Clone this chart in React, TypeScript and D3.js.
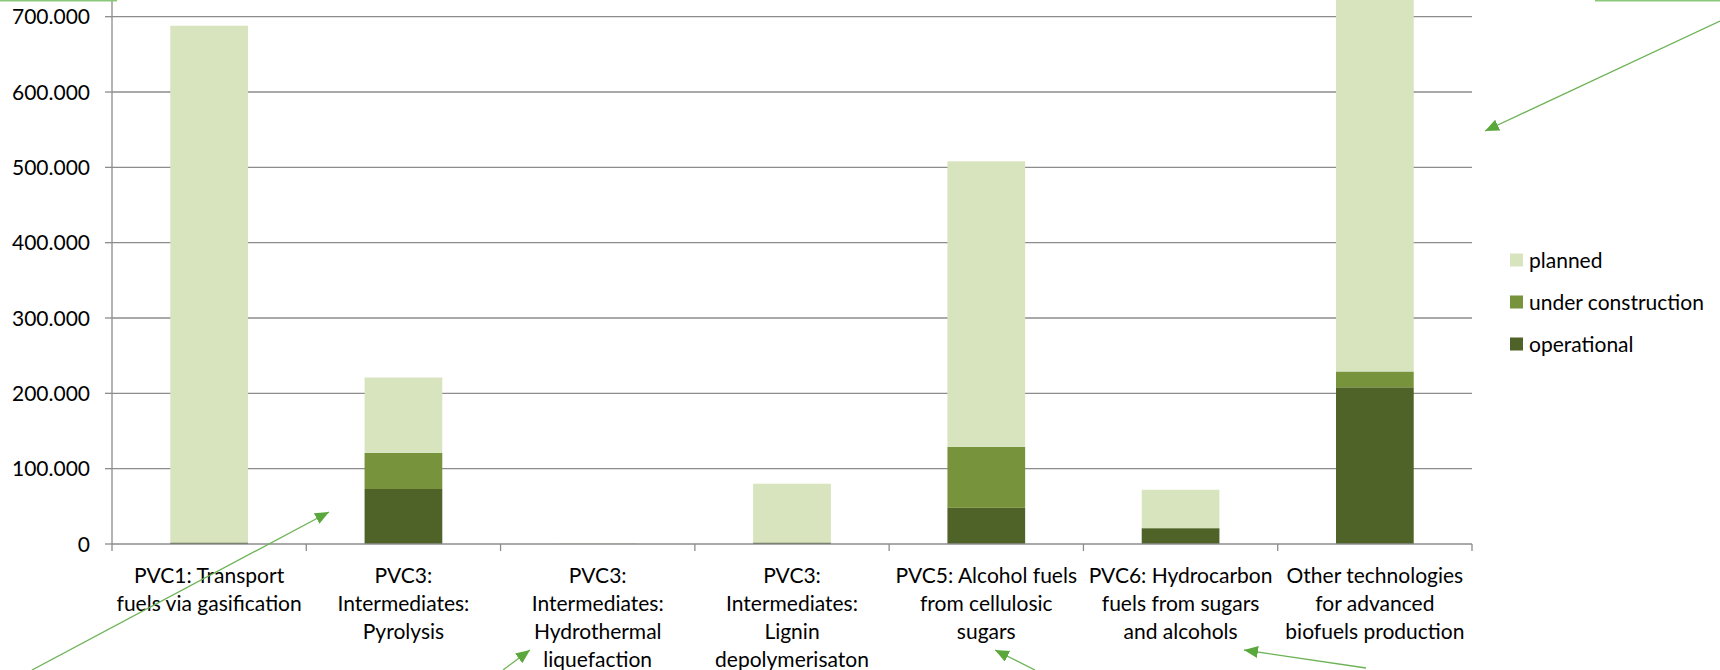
import { useMemo } from "react";
import * as d3 from "d3";

// categories (x axis), each split into label lines
const categories = ["pvc1", "pvc3pyr", "pvc3htl", "pvc3lig", "pvc5", "pvc6", "other"];
const categoryLines = [
  ["PVC1: Transport", "fuels via gasification"],
  ["PVC3:", "Intermediates:", "Pyrolysis"],
  ["PVC3:", "Intermediates:", "Hydrothermal", "liquefaction"],
  ["PVC3:", "Intermediates:", "Lignin", "depolymerisaton"],
  ["PVC5: Alcohol fuels", "from cellulosic", "sugars"],
  ["PVC6: Hydrocarbon", "fuels from sugars", "and alcohols"],
  ["Other technologies", "for advanced", "biofuels production"],
];

// capacity values (t/y)
const operational = [2000, 73000, 0, 2000, 48000, 21000, 208000];
const underConstruction = [0, 48000, 0, 0, 81000, 0, 21000];
const planned = [686000, 100000, 1000, 78000, 379000, 51000, 550000];

const seriesKeys = ["operational", "under construction", "planned"];
const seriesColors = ["#4F6228", "#77933C", "#D7E4BD"];
const legendOrder = ["planned", "under construction", "operational"];

const yTicks = [0, 100000, 200000, 300000, 400000, 500000, 600000, 700000];

const FONT = "Lato, 'Open Sans', sans-serif";

type Row = { cat: string } & Record<string, number>;

export default function App() {
  const W = 1720;
  const H = 670;
  const left = 112;
  const right = 1472;
  const zeroY = 544;
  const pxPer100k = 75.33;

  const rows: Row[] = useMemo(
    () =>
      categories.map((cat, i) => {
        const r = { cat } as Row;
        r["operational"] = operational[i];
        r["under construction"] = underConstruction[i];
        r["planned"] = planned[i];
        return r;
      }),
    []
  );

  const layers = useMemo(() => d3.stack<Row>().keys(seriesKeys)(rows), [rows]);

  const x = d3
    .scaleBand<string>()
    .domain(categories)
    .range([left, right])
    .paddingInner(0.6)
    .paddingOuter(0.3);

  const boundary = d3.scaleLinear().domain([0, categories.length]).range([left, right]);

  const y = d3
    .scaleLinear()
    .domain([0, 800000])
    .range([zeroY, zeroY - 8 * pxPer100k]);

  const fmt = (v: number) => (v === 0 ? "0" : d3.format(",")(v).replace(/,/g, "."));
  const colorOf = (k: string) => seriesColors[seriesKeys.indexOf(k)];

  const arrows = [
    { x1: 32, y1: 670, x2: 329, y2: 512 },
    { x1: 503, y1: 670, x2: 530, y2: 650 },
    { x1: 1035, y1: 670, x2: 995, y2: 650 },
    { x1: 1366, y1: 668, x2: 1244, y2: 650 },
    { x1: 1720, y1: 21, x2: 1485, y2: 131 },
  ];

  return (
    <svg
      width={W}
      height={H}
      style={{ position: "absolute", left: 0, top: 0, background: "#fff" }}
      fontFamily={FONT}
    >
      <defs>
        <marker
          id="head"
          markerUnits="userSpaceOnUse"
          markerWidth={16}
          markerHeight={14}
          refX={14}
          refY={6}
          orient="auto"
        >
          <path d="M0,0 L14,6 L0,12 Z" fill="#5AA83C" />
        </marker>
      </defs>

      {/* gridlines */}
      {yTicks.slice(1).map((t) => (
        <line key={t} x1={left} x2={right} y1={y(t)} y2={y(t)} stroke="#8c8c8c" strokeWidth={1.3} />
      ))}

      {/* stacked bars */}
      {layers.map((layer) => (
        <g key={layer.key} fill={colorOf(layer.key)}>
          {layer.map((d, i) => (
            <rect
              key={i}
              x={x(categories[i])}
              width={x.bandwidth()}
              y={y(d[1])}
              height={Math.max(0, y(d[0]) - y(d[1]))}
            />
          ))}
        </g>
      ))}

      {/* y axis */}
      <line x1={left} x2={left} y1={y(800000)} y2={zeroY} stroke="#8c8c8c" strokeWidth={1.3} />
      {yTicks.map((t) => (
        <g key={t}>
          <line x1={left - 7} x2={left} y1={y(t)} y2={y(t)} stroke="#8c8c8c" strokeWidth={1.3} />
          <text x={90} y={y(t)} dy="0.36em" textAnchor="end" fontSize={21} fill="#000">
            {fmt(t)}
          </text>
        </g>
      ))}

      {/* x axis */}
      <line x1={left} x2={right} y1={zeroY} y2={zeroY} stroke="#8c8c8c" strokeWidth={1.3} />
      {d3.range(categories.length + 1).map((i) => (
        <line
          key={i}
          x1={boundary(i)}
          x2={boundary(i)}
          y1={zeroY}
          y2={zeroY + 7}
          stroke="#8c8c8c"
          strokeWidth={1.3}
        />
      ))}
      {categories.map((c, i) => (
        <text key={c} textAnchor="middle" fontSize={21} fill="#000">
          {categoryLines[i].map((line, j) => (
            <tspan key={j} x={(x(c) ?? 0) + x.bandwidth() / 2} y={575 + j * 28.3} dy="0.36em">
              {line}
            </tspan>
          ))}
        </text>
      ))}

      {/* legend */}
      {legendOrder.map((k, i) => (
        <g key={k} transform={`translate(1510, ${260 + i * 42})`}>
          <rect x={0} y={-6.5} width={13} height={13} fill={colorOf(k)} />
          <text x={19} y={0} dy="0.36em" fontSize={21} fill="#000">
            {k}
          </text>
        </g>
      ))}

      {/* callout borders cut by the crop */}
      <line x1={0} x2={117} y1={0.8} y2={0.8} stroke="#8CC87A" strokeWidth={1.6} />
      <line x1={1595} x2={1720} y1={0.8} y2={0.8} stroke="#8CC87A" strokeWidth={1.6} />

      {/* arrows */}
      {arrows.map((a, i) => (
        <line
          key={i}
          x1={a.x1}
          y1={a.y1}
          x2={a.x2}
          y2={a.y2}
          stroke="#6DB356"
          strokeWidth={1.3}
          markerEnd="url(#head)"
        />
      ))}
    </svg>
  );
}
